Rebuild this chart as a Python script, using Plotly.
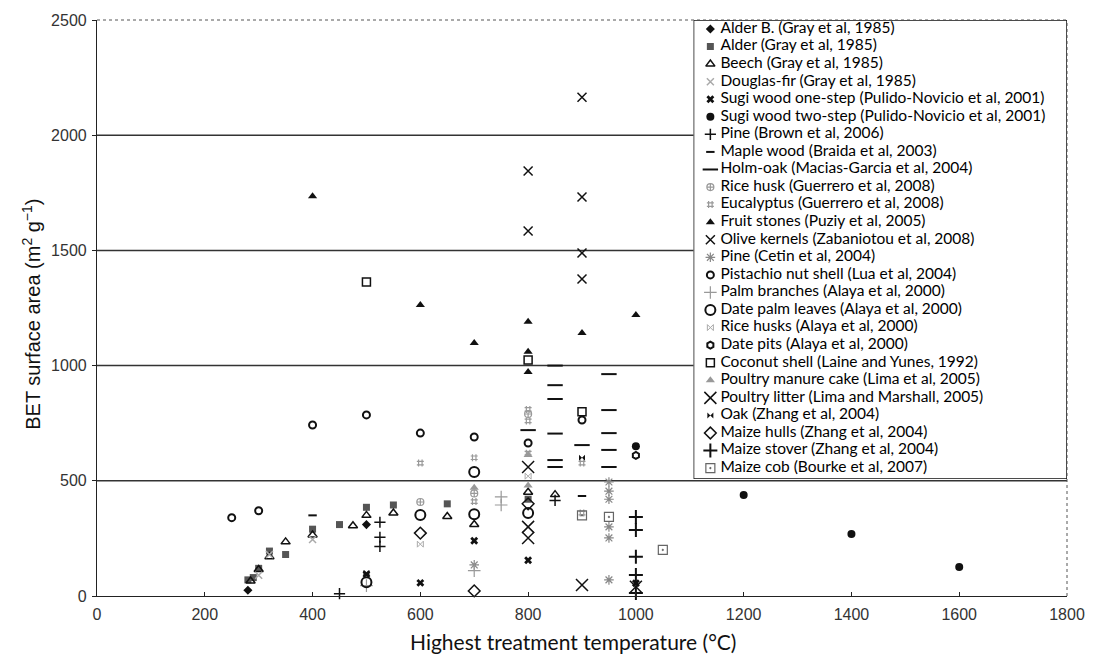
import plotly.graph_objects as go

# ---------------- data (temperature °C, BET m2/g) ----------------
alder_b_x = [280, 500]
alder_b_y = [25, 310]
alder_x = [280, 290, 300, 320, 350, 400, 450, 500, 550, 650, 800]
alder_y = [70, 80, 120, 195, 180, 290, 310, 385, 395, 400, 420]
beech_x = [285, 300, 320, 350, 400, 475, 500, 550, 650, 700, 800, 850]
beech_y = [65, 115, 170, 235, 265, 305, 350, 360, 345, 310, 450, 440]
douglas_x = [300, 320, 400]
douglas_y = [90, 180, 245]
sugi1_x = [500, 600, 700, 800, 1000]
sugi1_y = [95, 57, 240, 155, 55]
sugi2_x = [1000, 1200, 1400, 1600]
sugi2_y = [650, 438, 269, 126]
pine_brown_x = [450, 525, 525, 525, 850]
pine_brown_y = [10, 320, 255, 215, 415]
maple_x = [400, 900]
maple_y = [350, 434]
holm_x = [850, 850, 850, 850, 850, 850, 900, 950, 950, 950, 950, 950, 800]
holm_y = [1000, 915, 855, 705, 590, 560, 655, 963, 807, 707, 634, 560, 720]
rice_g_x = [600, 700, 800]
rice_g_y = [408, 445, 790]
euca_x = [600, 700, 700, 800, 800, 800, 900, 900]
euca_y = [577, 600, 410, 810, 760, 620, 577, 360]
fruit_x = [400, 600, 700, 800, 800, 800, 900, 1000]
fruit_y = [1735, 1263, 1098, 1190, 1060, 972, 1141, 1220]
olive_x = [800, 800, 900, 900, 900, 900]
olive_y = [1845, 1584, 2165, 1732, 1489, 1376]
pine_cetin_x = [950, 950, 950, 950, 950, 950, 700]
pine_cetin_y = [495, 455, 420, 300, 252, 70, 135]
pistachio_x = [250, 300, 400, 500, 600, 700, 800, 900]
pistachio_y = [340, 370, 742, 786, 707, 690, 664, 764]
palm_br_x = [700, 750, 750, 500]
palm_br_y = [110, 430, 395, 45]
date_leaves_x = [700, 600, 800, 700, 500]
date_leaves_y = [538, 352, 360, 355, 60]
rice_a_x = [600, 800]
rice_a_y = [225, 520]
date_pits_x = [1000]
date_pits_y = [610]
coconut_x = [500, 900, 800]
coconut_y = [1363, 800, 1024]
poultry_cake_x = [800, 800, 700]
poultry_cake_y = [612, 480, 470]
poultry_litter_x = [800, 800, 800, 900, 1000]
poultry_litter_y = [560, 300, 252, 48, 40]
oak_x = [500, 900]
oak_y = [100, 600]
maize_hulls_x = [600, 700, 800]
maize_hulls_y = [273, 22, 400]
maize_stover_x = [1000, 1000, 1000, 1000, 1000]
maize_stover_y = [343, 286, 170, 91, 13]
maize_cob_x = [1050, 950, 900]
maize_cob_y = [200, 343, 350]

x_ticks = [0, 200, 400, 600, 800, 1000, 1200, 1400, 1600, 1800]
y_ticks = [0, 500, 1000, 1500, 2000, 2500]
grid_values = [500, 1000, 1500, 2000]

# name, x, y, symbol, color, size, line width
series = [
    ("Alder B. (Gray et al, 1985)", alder_b_x, alder_b_y, "diamond", "#111", 7, 0),
    ("Alder (Gray et al, 1985)", alder_x, alder_y, "square", "#555", 7, 0),
    ("Beech (Gray et al, 1985)", beech_x, beech_y, "triangle-up-open", "#111", 8, 1.5),
    ("Douglas-fir (Gray et al, 1985)", douglas_x, douglas_y, "x-thin-open", "#aaa", 7, 1.5),
    ("Sugi wood one-step (Pulido-Novicio et al, 2001)", sugi1_x, sugi1_y, "x", "#111", 7, 0),
    ("Sugi wood two-step (Pulido-Novicio et al, 2001)", sugi2_x, sugi2_y, "circle", "#111", 8, 0),
    ("Pine (Brown et al, 2006)", pine_brown_x, pine_brown_y, "cross-thin-open", "#111", 8, 1.5),
    ("Maple wood (Braida et al, 2003)", maple_x, maple_y, "line-ew-open", "#111", 6, 2),
    ("Holm-oak (Macias-Garcia et al, 2004)", holm_x, holm_y, "line-ew-open", "#111", 11, 2),
    ("Rice husk (Guerrero et al, 2008)", rice_g_x, rice_g_y, "circle-cross-open", "#999", 7, 1.2),
    ("Eucalyptus (Guerrero et al, 2008)", euca_x, euca_y, "hash-open", "#999", 7, 1.2),
    ("Fruit stones (Puziy et al, 2005)", fruit_x, fruit_y, "triangle-up", "#111", 8, 0),
    ("Olive kernels (Zabaniotou et al, 2008)", olive_x, olive_y, "x-thin-open", "#111", 9, 1.5),
    ("Pine (Cetin et al, 2004)", pine_cetin_x, pine_cetin_y, "asterisk-open", "#888", 8, 1.2),
    ("Pistachio nut shell (Lua et al, 2004)", pistachio_x, pistachio_y, "circle-open", "#111", 7, 2),
    ("Palm branches (Alaya et al, 2000)", palm_br_x, palm_br_y, "cross-thin-open", "#999", 9, 1.2),
    ("Date palm leaves (Alaya et al, 2000)", date_leaves_x, date_leaves_y, "circle-open", "#111", 10, 2),
    ("Rice husks (Alaya et al, 2000)", rice_a_x, rice_a_y, "bowtie-open", "#aaa", 6, 1),
    ("Date pits (Alaya et al, 2000)", date_pits_x, date_pits_y, "hexagon-open", "#111", 7, 2),
    ("Coconut shell (Laine and Yunes, 1992)", coconut_x, coconut_y, "square-open", "#111", 8, 1.5),
    ("Poultry manure cake (Lima et al, 2005)", poultry_cake_x, poultry_cake_y, "triangle-up", "#999", 8, 0),
    ("Poultry litter (Lima and Marshall, 2005)", poultry_litter_x, poultry_litter_y, "x-thin-open", "#111", 12, 1.5),
    ("Oak (Zhang et al, 2004)", oak_x, oak_y, "bowtie", "#111", 6, 0),
    ("Maize hulls (Zhang et al, 2004)", maize_hulls_x, maize_hulls_y, "diamond-open", "#111", 9, 1.5),
    ("Maize stover (Zhang et al, 2004)", maize_stover_x, maize_stover_y, "cross-thin-open", "#111", 10, 2),
    ("Maize cob (Bourke et al, 2007)", maize_cob_x, maize_cob_y, "square-open-dot", "#666", 9, 1.2),
]

fig = go.Figure()

n = len(series)
leg_top = -0.51
leg_bot = n - 1 + 0.62

for i, (name, xs, ys, sym, col, size, lw) in enumerate(series):
    mk = dict(symbol=sym, color=col, size=size, line=dict(width=lw, color=col))
    fig.add_trace(go.Scatter(x=xs, y=ys, mode="markers", name=name, marker=mk,
                             cliponaxis=False, showlegend=False,
                             xaxis="x", yaxis="y"))
    # custom legend row
    fig.add_trace(go.Scatter(x=[0.045], y=[i], mode="markers", marker=mk,
                             showlegend=False, hoverinfo="skip",
                             xaxis="x2", yaxis="y2", cliponaxis=False))

fig.add_trace(go.Scatter(x=[0.072] * n, y=list(range(n)), mode="text",
                         text=[s[0] for s in series], textposition="middle right",
                         textfont=dict(family="Lato", size=15.5, color="#000"),
                         showlegend=False, hoverinfo="skip",
                         xaxis="x2", yaxis="y2", cliponaxis=False))

shapes = []
for g in grid_values:
    shapes.append(dict(type="line", xref="paper", yref="y", x0=0, x1=1, y0=g, y1=g,
                       line=dict(color="#333", width=1.5), layer="below"))
# dotted top and right frame
shapes.append(dict(type="line", xref="paper", yref="paper", x0=0, x1=1, y0=1, y1=1,
                   line=dict(color="#555", width=1, dash="dot"), layer="below"))
shapes.append(dict(type="line", xref="paper", yref="paper", x0=1, x1=1, y0=0, y1=1,
                   line=dict(color="#555", width=1, dash="dot"), layer="below"))
# legend box
shapes.append(dict(type="rect", xref="x2", yref="y2", x0=0, x1=1, y0=leg_top, y1=leg_bot,
                   fillcolor="white", line=dict(color="#111", width=1.5), layer="below"))

fig.update_layout(
    width=1097, height=665,
    margin=dict(l=97, r=19, t=20, b=69),
    paper_bgcolor="white", plot_bgcolor="white",
    showlegend=False,
    shapes=shapes,
    xaxis=dict(range=[0, 1800], tickvals=x_ticks, showgrid=False, zeroline=False,
               showline=True, linecolor="#222", linewidth=1.2,
               ticks="inside", ticklen=4, tickcolor="#222",
               tickfont=dict(family="Liberation Sans, Arial", size=16, color="#333"),
               ticklabelstandoff=4),
    yaxis=dict(range=[0, 2500], tickvals=y_ticks, showgrid=False, zeroline=False,
               showline=True, linecolor="#222", linewidth=1.2,
               ticks="outside", ticklen=4, tickcolor="#222",
               tickfont=dict(family="Liberation Sans, Arial", size=16, color="#333"),
               ticklabelstandoff=2),
    xaxis2=dict(domain=[0.615, 1], range=[0, 1], visible=False, anchor="y2"),
    yaxis2=dict(domain=[(596 - 479) / 576, 1], range=[leg_bot, leg_top], visible=False, anchor="x2"),
    annotations=[
        dict(text="Highest treatment temperature (°C)", xref="paper", yref="paper",
             x=(578 - 97) / 981, y=-(641 - 596) / 576, showarrow=False,
             xanchor="center", yanchor="middle",
             font=dict(family="Lato", size=21, color="#111")),
        dict(text="BET surface area (m<sup>2</sup> g<sup>−1</sup>)", xref="paper", yref="paper",
             x=-(97 - 30) / 981, y=(596 - 314) / 576, showarrow=False, textangle=-90,
             xanchor="center", yanchor="middle",
             font=dict(family="Liberation Sans, Arial", size=20, color="#111")),
    ],
)

fig.write_html("out.html")
